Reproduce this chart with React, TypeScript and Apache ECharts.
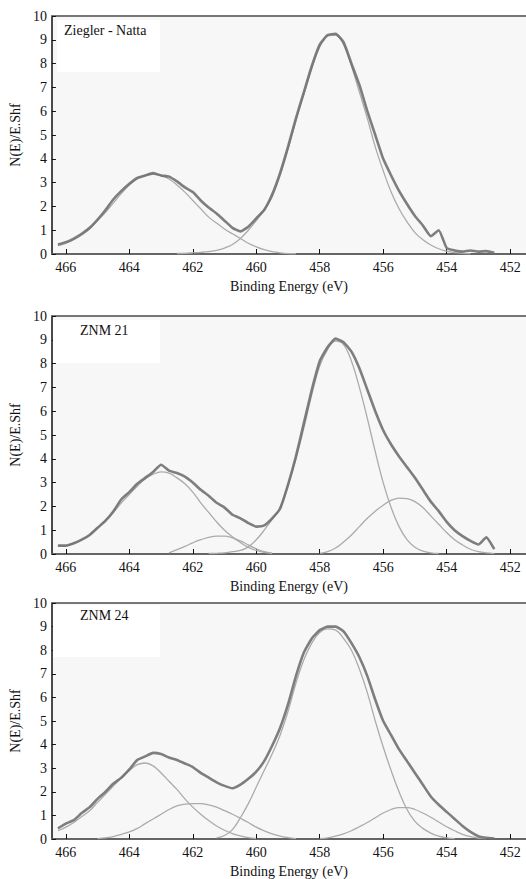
import React, { useEffect, useRef } from "react";
import * as echarts from "echarts";

// Binding energy grid (eV), shared by all panels
const energies = [
  466.25, 466.0, 465.75, 465.5, 465.25, 465.0, 464.75, 464.5, 464.25, 464.0,
  463.75, 463.5, 463.25, 463.0, 462.75, 462.5, 462.25, 462.0, 461.75, 461.5,
  461.25, 461.0, 460.75, 460.5, 460.25, 460.0, 459.75, 459.5, 459.25, 459.0,
  458.75, 458.5, 458.25, 458.0, 457.75, 457.5, 457.25, 457.0, 456.75, 456.5,
  456.25, 456.0, 455.75, 455.5, 455.25, 455.0, 454.75, 454.5, 454.25, 454.0,
  453.75, 453.5, 453.25, 453.0, 452.75, 452.5,
];

const xTicks = [466, 464, 462, 460, 458, 456, 454, 452];
const panelTitles = ["Ziegler - Natta", "ZNM 21", "ZNM 24"];
const xAxisTitle = "Binding Energy (eV)";
const yAxisTitle = "N(E)/E.Shf";

// ---- Panel 1: Ziegler - Natta ----
const znData = [
  0.4, 0.5, 0.65, 0.85, 1.1, 1.45, 1.85, 2.3, 2.65, 2.95,
  3.2, 3.3, 3.4, 3.3, 3.25, 3.05, 2.8, 2.6, 2.25, 1.95,
  1.7, 1.4, 1.1, 0.95, 1.15, 1.5, 1.85, 2.5, 3.4, 4.5,
  5.7, 6.8, 7.9, 8.8, 9.2, 9.25, 8.9, 8.0, 7.1, 6.0,
  5.0, 4.0, 3.3, 2.65, 2.1, 1.6, 1.2, 0.75, 1.0, 0.25,
  0.15, 0.1, 0.15, 0.1, 0.12, 0.05,
];
const znFit1Start = 0;
const znFit1 = [
  0.35, 0.45, 0.6, 0.8, 1.05, 1.4, 1.75, 2.15, 2.55, 2.9,
  3.15, 3.3, 3.35, 3.3, 3.15, 2.9, 2.6, 2.25, 1.9, 1.55,
  1.3, 1.05, 0.85, 0.65, 0.45, 0.3, 0.18, 0.1, 0.05, 0.02, 0.01,
];
const znFit2Start = 15;
const znFit2 = [
  0.02, 0.03, 0.05, 0.07, 0.1, 0.15, 0.25, 0.4, 0.65, 1.0,
  1.4, 1.85, 2.4, 3.3, 4.4, 5.6, 6.7, 7.8, 8.7, 9.15,
  9.2, 8.8, 7.9, 6.8, 5.7, 4.5, 3.5, 2.6, 1.9, 1.35,
  0.9, 0.6, 0.38, 0.22, 0.12, 0.06, 0.03, 0.01,
];

// ---- Panel 2: ZNM 21 ----
const m21Data = [
  0.35, 0.35, 0.45, 0.6, 0.8, 1.1, 1.4, 1.8, 2.3, 2.6,
  2.95, 3.2, 3.45, 3.75, 3.5, 3.4, 3.25, 3.0, 2.7, 2.45,
  2.15, 1.95, 1.65, 1.5, 1.3, 1.15, 1.2, 1.5, 1.9, 2.9,
  4.1, 5.5, 6.9, 8.1, 8.7, 9.05, 8.9, 8.5, 7.8, 6.9,
  6.0, 5.2, 4.6, 4.1, 3.65, 3.2, 2.7, 2.2, 1.8, 1.35,
  1.0, 0.75, 0.55, 0.4, 0.7, 0.2,
];
const m21Fit1Start = 0;
const m21Fit1 = [
  0.35, 0.35, 0.45, 0.6, 0.8, 1.1, 1.4, 1.75, 2.15, 2.5,
  2.85, 3.15, 3.35, 3.45, 3.4, 3.2, 2.95, 2.6, 2.15, 1.75,
  1.35, 1.0, 0.72, 0.48, 0.28, 0.15, 0.07, 0.03,
];
const m21Fit2Start = 14;
const m21Fit2 = [
  0.05, 0.18, 0.32, 0.47, 0.6, 0.7, 0.75, 0.75, 0.68, 0.55,
  0.38, 0.22, 0.1, 0.03,
];
const m21Fit3Start = 19;
const m21Fit3 = [
  0.02, 0.03, 0.05, 0.1, 0.15, 0.3, 0.6, 1.0, 1.45, 1.95,
  2.9, 4.0, 5.3, 6.7, 7.9, 8.6, 8.95, 8.8, 8.1, 7.0,
  5.7, 4.3, 3.0, 1.95, 1.15, 0.6, 0.28, 0.12, 0.05, 0.02,
];
const m21Fit4Start = 33;
const m21Fit4 = [
  0.03, 0.1, 0.25, 0.5, 0.8, 1.15, 1.5, 1.8, 2.05, 2.25,
  2.35, 2.33, 2.2, 1.95, 1.6, 1.25, 0.9, 0.6, 0.38, 0.2,
  0.1, 0.05, 0.02,
];

// ---- Panel 3: ZNM 24 ----
const m24Data = [
  0.45, 0.65, 0.8, 1.1, 1.35, 1.7, 2.0, 2.35, 2.6, 2.95,
  3.35, 3.5, 3.65, 3.6, 3.45, 3.35, 3.2, 3.05, 2.8, 2.6,
  2.4, 2.25, 2.15, 2.3, 2.55, 2.85, 3.3, 3.95, 4.7, 5.7,
  6.9, 7.9, 8.5, 8.85, 9.0, 9.0, 8.8, 8.3, 7.7, 6.9,
  5.9, 5.0, 4.4, 3.8, 3.3, 2.8, 2.3, 1.8, 1.45, 1.15,
  0.85, 0.55, 0.3, 0.12, 0.05, 0.02,
];
const m24Fit1Start = 0;
const m24Fit1 = [
  0.35, 0.5, 0.7, 0.95, 1.2, 1.55, 1.9, 2.25, 2.6, 2.9,
  3.15, 3.22, 3.1, 2.8, 2.45, 2.1, 1.7, 1.35, 1.05, 0.78,
  0.55, 0.37, 0.23, 0.13, 0.06, 0.02,
];
const m24Fit2Start = 5;
const m24Fit2 = [
  0.02, 0.05, 0.1, 0.2, 0.3, 0.45, 0.65, 0.85, 1.05, 1.25,
  1.4, 1.48, 1.5, 1.5, 1.45, 1.35, 1.2, 1.05, 0.88, 0.7,
  0.5, 0.35, 0.22, 0.12, 0.06, 0.02,
];
const m24Fit3Start = 20;
const m24Fit3 = [
  0.05, 0.15, 0.4, 0.9, 1.5, 2.2, 2.9, 3.6, 4.4, 5.4,
  6.6, 7.6, 8.3, 8.75, 8.9, 8.85, 8.5, 8.0, 7.2, 6.2,
  5.0, 3.9, 2.9, 2.0, 1.25, 0.75, 0.45, 0.25, 0.12, 0.05, 0.02,
];
const m24Fit4Start = 33;
const m24Fit4 = [
  0.02, 0.05, 0.12, 0.22, 0.35, 0.52, 0.7, 0.9, 1.1, 1.25,
  1.33, 1.33, 1.25, 1.1, 0.92, 0.72, 0.52, 0.35, 0.2, 0.1,
  0.04, 0.02,
];

const panels = [
  {
    data: znData,
    fits: [
      { start: znFit1Start, values: znFit1 },
      { start: znFit2Start, values: znFit2 },
    ],
  },
  {
    data: m21Data,
    fits: [
      { start: m21Fit1Start, values: m21Fit1 },
      { start: m21Fit2Start, values: m21Fit2 },
      { start: m21Fit3Start, values: m21Fit3 },
      { start: m21Fit4Start, values: m21Fit4 },
    ],
  },
  {
    data: m24Data,
    fits: [
      { start: m24Fit1Start, values: m24Fit1 },
      { start: m24Fit2Start, values: m24Fit2 },
      { start: m24Fit3Start, values: m24Fit3 },
      { start: m24Fit4Start, values: m24Fit4 },
    ],
  },
];

const FONT = "Liberation Serif, Times New Roman, serif";
const X_MIN = 451.5;
const X_MAX = 466.44;

const gridBoxes = [
  { top: 16, height: 238 },
  { top: 316, height: 238 },
  { top: 603, height: 237 },
];
const labelBoxes = [
  { x: 57, y: 20, w: 103, h: 52, tx: 64, ty: 23 },
  { x: 53, y: 320, w: 107, h: 43, tx: 80, ty: 323 },
  { x: 53, y: 605, w: 107, h: 52, tx: 80, ty: 608 },
];

export default function App() {
  const ref = useRef<HTMLDivElement>(null);

  useEffect(() => {
    if (!ref.current) return;
    const chart = echarts.init(ref.current, null, { renderer: "svg" });

    const grid = gridBoxes.map((g) => ({
      left: 50,
      right: 0,
      top: g.top,
      height: g.height,
      show: true,
      backgroundColor: "#f7f7f7",
      borderWidth: 0,
    }));

    const xAxis: any[] = [];
    gridBoxes.forEach((_, i) => {
      xAxis.push({
        type: "value",
        gridIndex: i,
        inverse: true,
        min: X_MIN,
        max: X_MAX,
        axisLine: { show: true, onZero: false, lineStyle: { color: "#666", width: 2 } },
        axisTick: {
          show: true,
          inside: true,
          length: 5,
          customValues: xTicks,
          lineStyle: { color: "#111", width: 1 },
        },
        axisLabel: {
          customValues: xTicks,
          fontFamily: FONT,
          fontSize: 14,
          color: "#111",
          margin: 6,
        },
        splitLine: { show: false },
        name: xAxisTitle,
        nameLocation: "middle",
        nameGap: 25,
        nameTextStyle: { fontFamily: FONT, fontSize: 14, color: "#111" },
      });
    });
    gridBoxes.forEach((_, i) => {
      xAxis.push({
        type: "value",
        gridIndex: i,
        position: "top",
        inverse: true,
        min: X_MIN,
        max: X_MAX,
        axisLine: { show: true, onZero: false, lineStyle: { color: "#777", width: 2 } },
        axisTick: { show: false },
        axisLabel: { show: false },
        splitLine: { show: false },
      });
    });

    const yAxis = gridBoxes.map((_, i) => ({
      type: "value",
      gridIndex: i,
      min: 0,
      max: 10,
      interval: 1,
      axisLine: { show: true, lineStyle: { color: "#111", width: 1.5 } },
      axisTick: { show: true, inside: true, length: 4, lineStyle: { color: "#111" } },
      axisLabel: { fontFamily: FONT, fontSize: 14, color: "#111", margin: 5 },
      splitLine: { show: false },
      name: yAxisTitle,
      nameLocation: "middle",
      nameGap: 24,
      nameTextStyle: { fontFamily: FONT, fontSize: 14, color: "#111" },
    }));

    const series: any[] = [];
    panels.forEach((p, i) => {
      p.fits.forEach((f) => {
        series.push({
          type: "line",
          xAxisIndex: i,
          yAxisIndex: i,
          showSymbol: false,
          smooth: 0.4,
          z: 2,
          lineStyle: { color: "#ababab", width: 1.3 },
          data: f.values.map((v, k) => [energies[f.start + k], v]),
        });
      });
      series.push({
        type: "line",
        xAxisIndex: i,
        yAxisIndex: i,
        showSymbol: false,
        smooth: 0.15,
        z: 3,
        lineStyle: { color: "#707070", width: 2.6, opacity: 0.9 },
        data: p.data.map((v, k) => [energies[k], v]),
      });
    });

    const graphic: any[] = [];
    labelBoxes.forEach((b, i) => {
      graphic.push({
        type: "rect",
        shape: { x: b.x, y: b.y, width: b.w, height: b.h },
        style: { fill: "#ffffff" },
        z: 1,
        silent: true,
      });
      graphic.push({
        type: "text",
        x: b.tx,
        y: b.ty,
        z: 10,
        style: {
          text: panelTitles[i],
          font: `14px ${FONT}`,
          fill: "#111",
        },
      });
    });

    chart.setOption({
      animation: false,
      backgroundColor: "#ffffff",
      grid,
      xAxis,
      yAxis,
      series,
      graphic,
    });

    return () => chart.dispose();
  }, []);

  return (
    <div
      ref={ref}
      style={{ position: "fixed", left: 0, top: 0, width: 526, height: 879 }}
    />
  );
}
